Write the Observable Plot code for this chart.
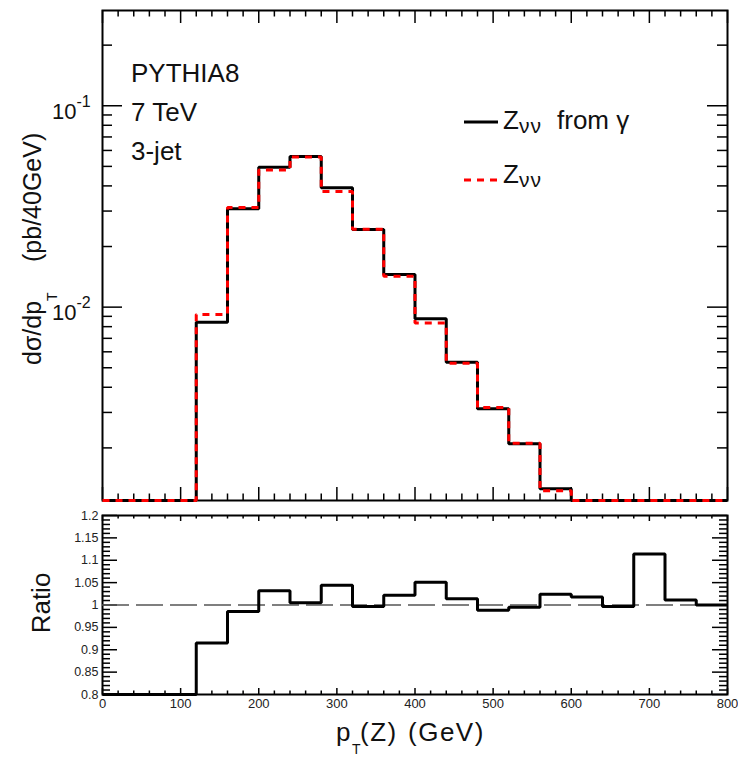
<!DOCTYPE html>
<html><head><meta charset="utf-8">
<script src="https://cdn.jsdelivr.net/npm/d3@7"></script>
<script src="https://cdn.jsdelivr.net/npm/@observablehq/plot@0.6"></script>
<style>
body{margin:0;background:#fff;}
#chart{position:relative;width:738px;height:757px;overflow:hidden;font-family:"Liberation Sans",Arial,Helvetica,sans-serif;}
#chart svg{position:absolute;left:0;}
</style></head><body><div id="chart"></div>
<script>
// ---- data ----
const binLow = [0,40,80,120,160,200,240,280,320,360,400,440,480,520,560,600,640,680,720,760];
const binHigh = 800;
const zFromGamma = [0,0,0,0.00842,0.0308,0.0495,0.056,0.0392,0.0243,0.01453,0.00875,0.00533,0.00313,0.0021,0.001254,0.00075,0.00045,0.0003,0.00018,0.0001];
const zNuNu      = [0,0,0,0.0092,0.03125,0.048,0.0557,0.03755,0.02438,0.01422,0.00833,0.00526,0.00317,0.00211,0.001225,0.000737,0.000452,0.000269,0.000178,0.0001];
const ratio      = [0,0,0,0.915,0.9855,1.0317,1.005,1.044,0.9966,1.022,1.051,1.014,0.988,0.995,1.024,1.018,0.9966,1.114,1.011,1.0];

const xMajorTicks = [0,100,200,300,400,500,600,700,800];
const xMinorTicks = [20,40,60,80,120,140,160,180,220,240,260,280,320,340,360,380,420,440,460,480,520,540,560,580,620,640,660,680,720,740,760,780];
const yMajorTicks = [0.01,0.1];
const yTickBase = ["10","10"];
const yTickExp = ["-2","-1"];
const yMinorTicks = [0.002,0.003,0.004,0.005,0.006,0.007,0.008,0.009,0.02,0.03,0.04,0.05,0.06,0.07,0.08,0.09,0.2];
const ratioMajorTicks = [0.8,0.85,0.9,0.95,1,1.05,1.1,1.15,1.2];
const ratioTickLabels = ["0.8","0.85","0.9","0.95","1","1.05","1.1","1.15","1.2"];
const ratioMinorTicks = [0.81,0.82,0.83,0.84,0.86,0.87,0.88,0.89,0.91,0.92,0.93,0.94,0.96,0.97,0.98,0.99,1.01,1.02,1.03,1.04,1.06,1.07,1.08,1.09,1.11,1.12,1.13,1.14,1.16,1.17,1.18,1.19];

const annotations = ["PYTHIA8","7 TeV","3-jet"];

// ---- layout ----
const FONT = "'Liberation Sans', Arial, Helvetica, sans-serif";
const W = 738, ML = 102, MR = 11;
const frameW = W - ML - MR;
const topH = 505, topMT = 10, topMB = 5, topFH = topH - topMT - topMB;
const botH = 252, botMT = 10, botMB = 63, botFH = botH - botMT - botMB;
const Y_MIN = 0.001096, Y_MAX = 0.2972;
const R_MIN = 0.8, R_MAX = 1.2;

const steps = vals => binLow.map((x, i) => ({x, v: vals[i]})).concat([{x: binHigh, v: vals[vals.length - 1]}]);
const lineOpts = {curve: "step-after", strokeLinejoin: "miter", strokeLinecap: "butt"};

function tickMarks(fh, xMaj, xMin, yMajVals, yMinVals, yMaj, yMin) {
  const s = {stroke: "black", strokeWidth: 1.5};
  return [
    Plot.tickX(xMajorTicks, {x: d => d, insetTop: fh - xMaj, ...s}),
    Plot.tickX(xMajorTicks, {x: d => d, insetBottom: fh - xMaj, ...s}),
    Plot.tickX(xMinorTicks, {x: d => d, insetTop: fh - xMin, ...s}),
    Plot.tickX(xMinorTicks, {x: d => d, insetBottom: fh - xMin, ...s}),
    Plot.tickY(yMajVals, {y: d => d, insetRight: frameW - yMaj, ...s}),
    Plot.tickY(yMajVals, {y: d => d, insetLeft: frameW - yMaj, ...s}),
    Plot.tickY(yMinVals, {y: d => d, insetRight: frameW - yMin, ...s}),
    Plot.tickY(yMinVals, {y: d => d, insetLeft: frameW - yMin, ...s})
  ];
}

const topPlot = Plot.plot({
  width: W, height: topH,
  marginLeft: ML, marginRight: MR, marginTop: topMT, marginBottom: topMB,
  style: {fontFamily: FONT, background: "transparent", overflow: "visible"},
  x: {domain: [0, 800], axis: null},
  y: {type: "log", domain: [Y_MIN, Y_MAX], axis: null},
  marks: [
    Plot.frame({stroke: "black", strokeWidth: 2}),
    ...tickMarks(topFH, 13, 6.5, yMajorTicks, yMinorTicks, 20, 10),
    Plot.line(steps(zFromGamma), {x: "x", y: d => Math.max(d.v, Y_MIN), stroke: "black", strokeWidth: 3, ...lineOpts}),
    Plot.line(steps(zNuNu), {x: "x", y: d => Math.max(d.v, Y_MIN), stroke: "#ff0000", strokeWidth: 3, strokeDasharray: "7,6", ...lineOpts}),
    Plot.text(yMajorTicks, {y: d => d, text: (d, i) => yTickBase[i], frameAnchor: "left", textAnchor: "end", dx: -26, dy: 6, fontSize: 22, fill: "#111"}),
    Plot.text(yMajorTicks, {y: d => d, text: (d, i) => yTickExp[i], frameAnchor: "left", textAnchor: "start", dx: -26, dy: -4, fontSize: 16, fill: "#111"})
  ]
});
topPlot.style.top = "0px";

const botPlot = Plot.plot({
  width: W, height: botH,
  marginLeft: ML, marginRight: MR, marginTop: botMT, marginBottom: botMB,
  style: {fontFamily: FONT, background: "transparent", overflow: "visible"},
  x: {domain: [0, 800], label: null},
  y: {domain: [R_MIN, R_MAX], label: null},
  marks: [
    Plot.frame({stroke: "black", strokeWidth: 2}),
    ...tickMarks(botFH, 6, 3.5, ratioMajorTicks, ratioMinorTicks, 15, 8),
    Plot.ruleY([1], {stroke: "#555", strokeWidth: 1.5, strokeDasharray: "27,7"}),
    Plot.line(steps(ratio), {x: "x", y: d => Math.max(d.v, R_MIN), stroke: "black", strokeWidth: 3, ...lineOpts}),
    Plot.axisX({ticks: xMajorTicks, tickSize: 0, tickPadding: 4, fontSize: 13, fill: "#222", label: null}),
    Plot.axisY({ticks: ratioMajorTicks, tickSize: 0, tickPadding: 4, fontSize: 12.5, fill: "#222", label: null,
      tickFormat: d => ratioTickLabels[ratioMajorTicks.indexOf(d)]})
  ]
});
botPlot.style.top = topH + "px";

const chart = document.getElementById("chart");
chart.appendChild(topPlot);
chart.appendChild(botPlot);

// ---- text annotations, legend, axis titles ----
const ts = d3.select(topPlot);
annotations.forEach((t, i) => {
  ts.append("text").attr("x", 131).attr("y", 82 + i * 39).attr("text-anchor", "start")
    .attr("font-size", 26).attr("font-family", FONT).attr("fill", "#111").text(t);
});

// legend
const leg = ts.append("g").attr("font-family", FONT).attr("fill", "#111").attr("text-anchor", "start");
leg.append("line").attr("x1", 464).attr("x2", 498).attr("y1", 122).attr("y2", 122)
  .attr("stroke", "black").attr("stroke-width", 3);
const l1 = leg.append("text").attr("x", 503).attr("y", 129).attr("font-size", 26);
l1.append("tspan").text("Z");
l1.append("tspan").attr("font-size", 21).attr("dy", 4).attr("letter-spacing", 1).text("νν");
l1.append("tspan").attr("x", 557).attr("dy", -4).text("from γ");
leg.append("line").attr("x1", 464).attr("x2", 498).attr("y1", 180).attr("y2", 180)
  .attr("stroke", "#ff0000").attr("stroke-width", 3).attr("stroke-dasharray", "7,6");
const l2 = leg.append("text").attr("x", 503).attr("y", 183).attr("font-size", 26);
l2.append("tspan").text("Z");
l2.append("tspan").attr("font-size", 21).attr("dy", 4).attr("letter-spacing", 1).text("νν");

// y title (top)
const yt = ts.append("text").attr("transform", "translate(41,365) rotate(-90)").attr("text-anchor", "start")
  .attr("font-size", 25).attr("font-family", FONT).attr("fill", "#111");
yt.append("tspan").text("dσ/dp");
yt.append("tspan").attr("font-size", 14).attr("dy", 16).text("T");
yt.append("tspan").attr("x", 103).attr("dy", -16).text("(pb/40GeV)");

// y title (bottom)
const bs = d3.select(botPlot);
bs.append("text").attr("transform", `translate(50,${603 - topH}) rotate(-90)`)
  .attr("text-anchor", "middle").attr("font-size", 26).attr("font-family", FONT).attr("fill", "#111").text("Ratio");

// x title
const xt = bs.append("text").attr("x", 336).attr("y", 741 - topH).attr("text-anchor", "start")
  .attr("font-size", 26).attr("font-family", FONT).attr("fill", "#111").attr("letter-spacing", 1.5);
xt.append("tspan").text("p");
xt.append("tspan").attr("font-size", 14).attr("dy", 13).text("T");
xt.append("tspan").attr("x", 360).attr("dy", -13).text("(Z)");
xt.append("tspan").attr("x", 408).text("(GeV)");
</script></body></html>
